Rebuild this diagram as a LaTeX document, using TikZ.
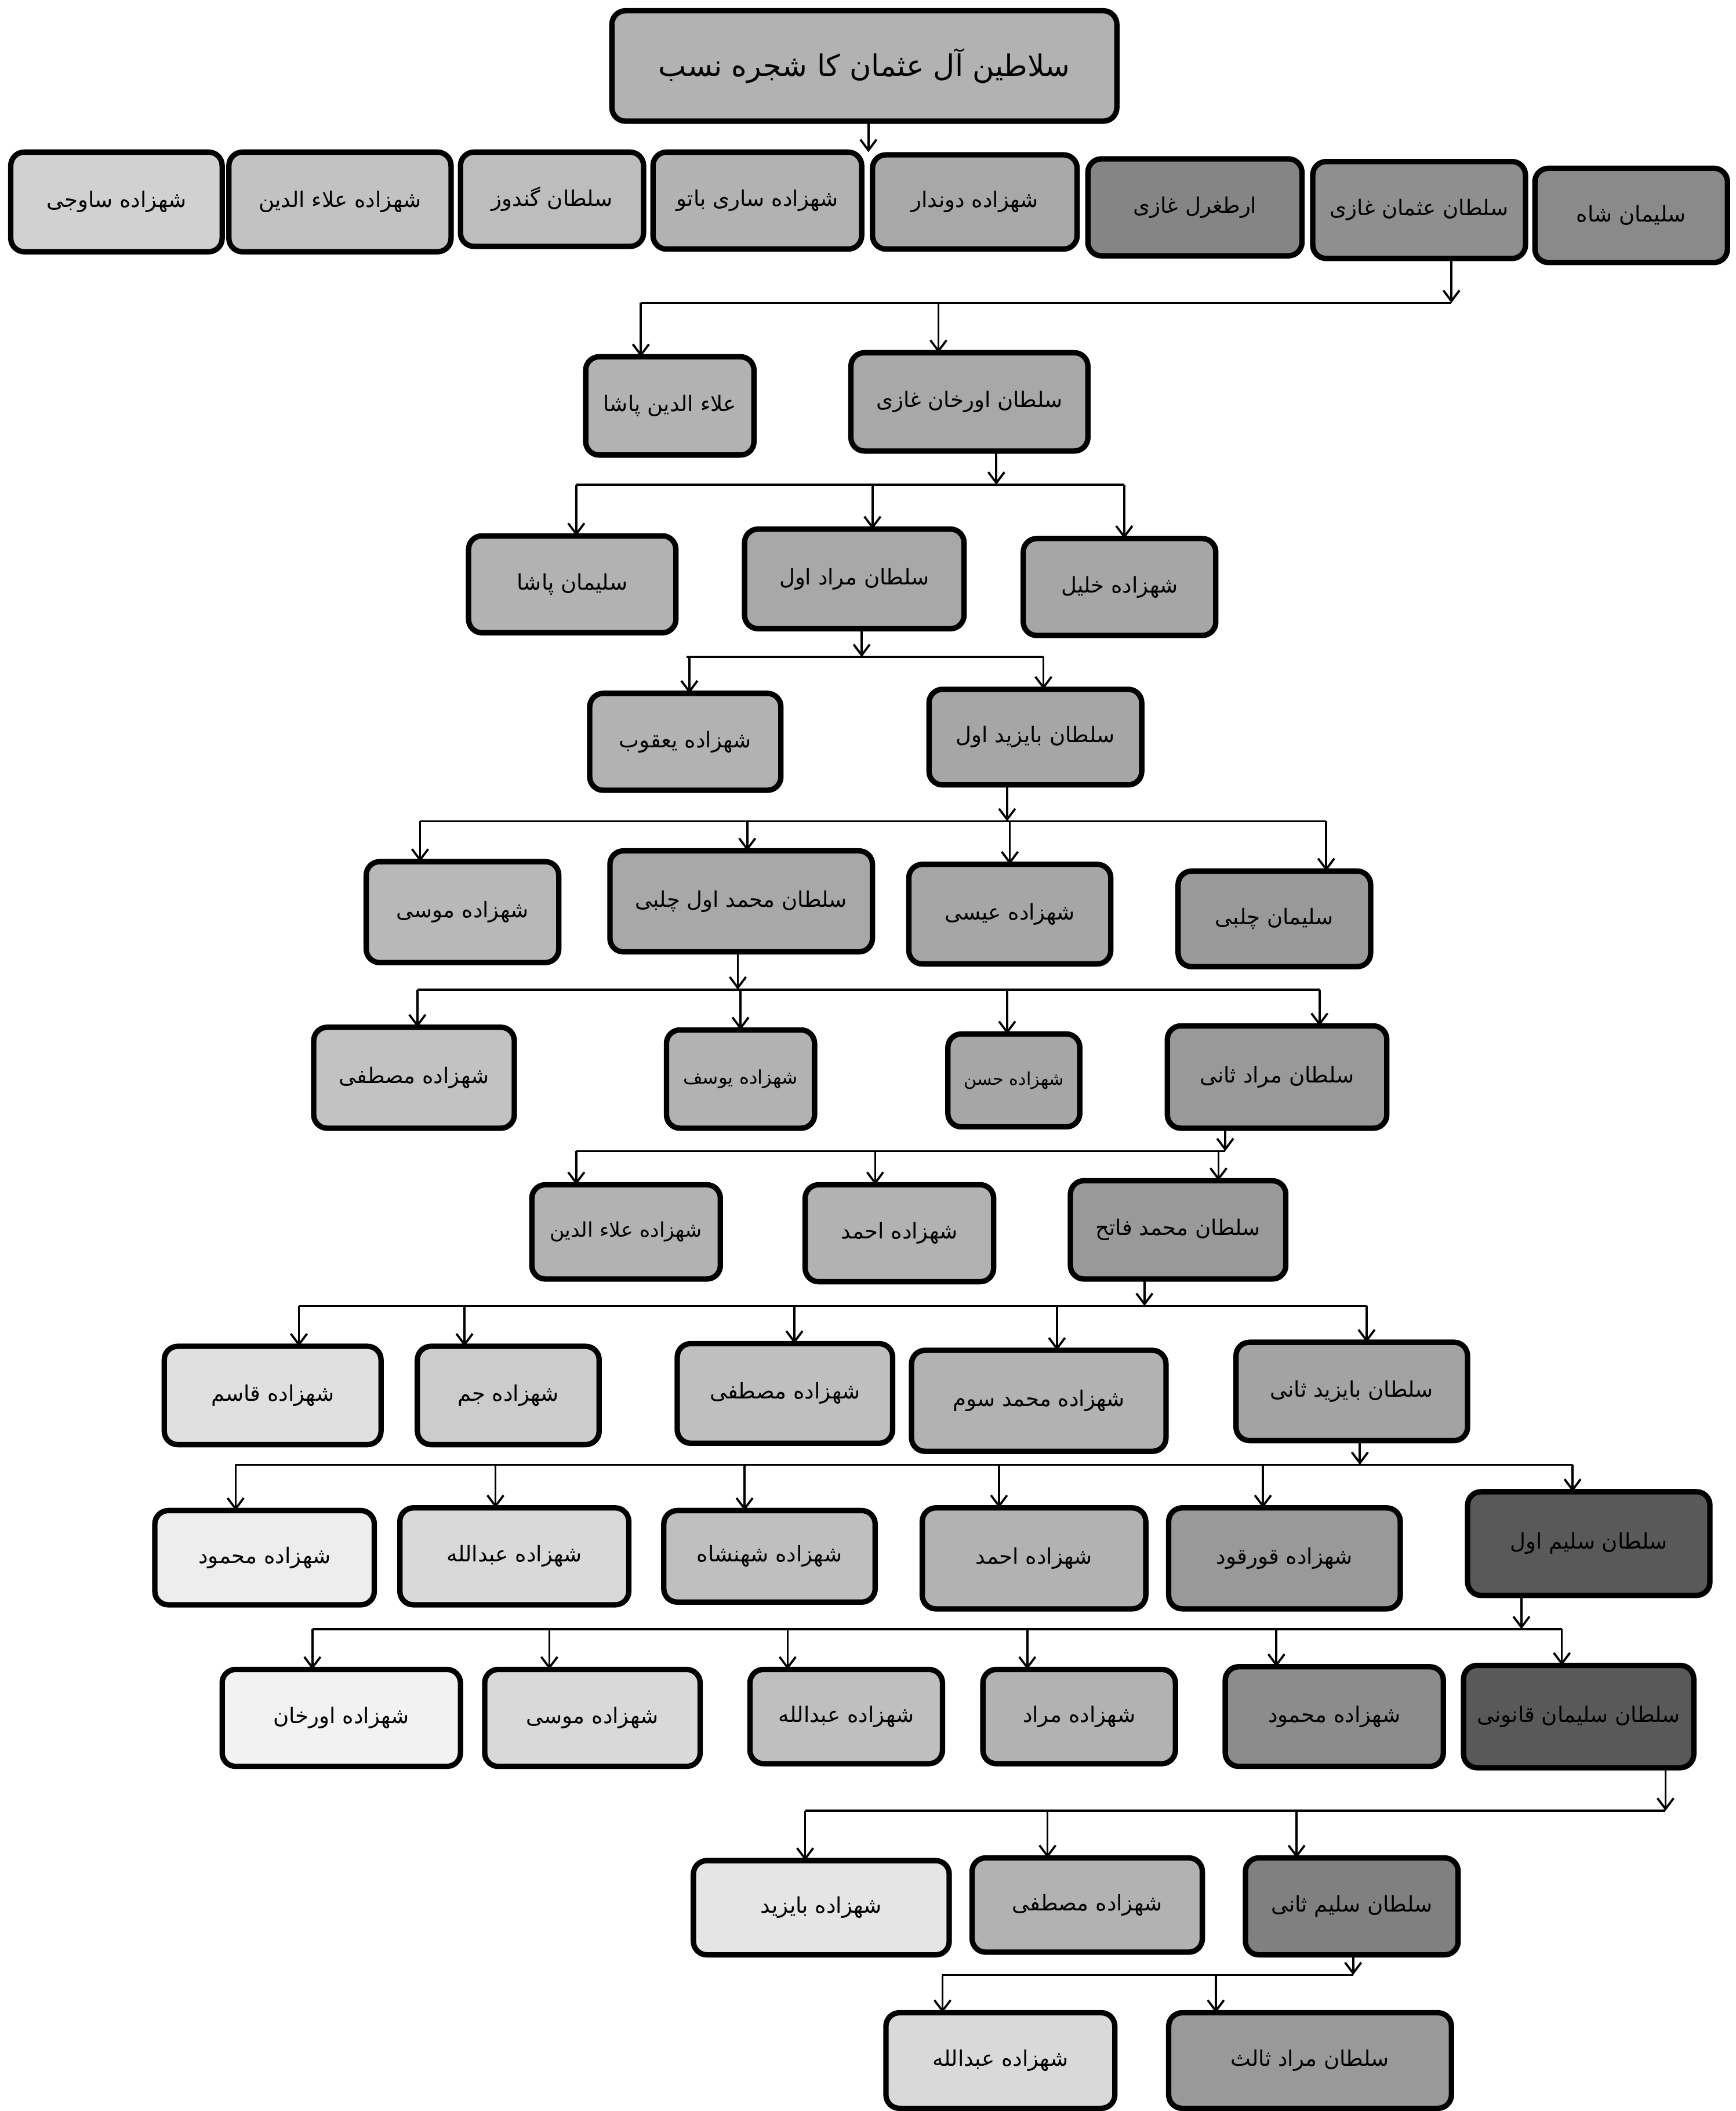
\documentclass[tikz,border=0pt]{standalone}
\usepackage{fontspec}
\usetikzlibrary{arrows.meta}
\TeXXeTstate=1
\newfontfamily\urdu[Script=Arabic]{DejaVu Sans}
\tikzset{
  box/.style={draw=black, line width=2pt, rounded corners=5pt, inner sep=1pt, outer sep=0pt,
    font=\urdu\fontsize{8}{9}\selectfont, text=black},
  link/.style={line width=0.8pt, draw=black},
  arr/.style={link, -{Straight Barb[length=4pt,width=6pt,line width=0.8pt]}}
}
% name, x1, y1, x2, y2, gray, text
\newcommand\mkbox[7]{%
  \node[box, fill=black!#6, minimum width={(#4-#2)*0.5pt}, minimum height={(#5-#3)*0.5pt}]
    (#1) at ({(#2+#4)/2},{(#3+#5)/2}) {#7};}
% parent, x, bar y
\newcommand\up[3]{\draw[arr] (#1.south -| #2,0) -- (#2,#3);}
% bar y, x, child
\newcommand\dn[3]{\draw[arr] (#2,#1) -- (#3.north -| #2,0);}
\begin{document}
\begin{tikzpicture}[x=0.5pt,y=-0.5pt]
\useasboundingbox (0,0) rectangle (1289,1568);
\fill[white] (0,0) rectangle (1289,1568);

% top
\node[box, fill=black!30, minimum width={375*0.5pt}, minimum height={82*0.5pt}, font=\urdu\fontsize{11}{12}\selectfont]
  (top) at (642,49) {\beginR سلاطین آل عثمان کا شجره نسب\endR};
\draw[arr] (top.south -| 645,0) -- (645,113);

% row 1
\mkbox{a1}{8}{113}{165}{187}{18}{\beginR شهزاده ساوجی\endR}
\mkbox{a2}{170}{113}{335}{187}{24}{\beginR شهزاده علاء الدین\endR}
\mkbox{a3}{342}{113}{478}{183}{26}{\beginR سلطان گندوز\endR}
\mkbox{a4}{485}{113}{640}{185}{30}{\beginR شهزاده ساری باتو\endR}
\mkbox{a5}{648}{115}{800}{185}{34}{\beginR شهزاده دوندار\endR}
\mkbox{a6}{808}{118}{967}{190}{48}{\beginR ارطغرل غازی\endR}
\mkbox{a7}{975}{120}{1133}{192}{44}{\beginR سلطان عثمان غازی\endR}
\mkbox{a8}{1140}{125}{1283}{195}{46}{\beginR سلیمان شاه\endR}
\up{a7}{1078}{225}
\draw[link] (476,225) -- (1078,225);

% row 2
\mkbox{b1}{435}{265}{560}{338}{30}{\beginR علاء الدین پاشا\endR}
\mkbox{b2}{632}{262}{808}{335}{34}{\beginR سلطان اورخان غازی\endR}
\dn{225}{476}{b1}
\dn{225}{697}{b2}
\up{b2}{740}{360}
\draw[link] (428,360) -- (835,360);

% row 3
\mkbox{c1}{348}{398}{502}{470}{30}{\beginR سلیمان پاشا\endR}
\mkbox{c2}{553}{393}{716}{467}{34}{\beginR سلطان مراد اول\endR}
\mkbox{c3}{760}{400}{903}{472}{35}{\beginR شهزاده خلیل\endR}
\dn{360}{428}{c1}
\dn{360}{648}{c2}
\dn{360}{835}{c3}
\up{c2}{640}{488}
\draw[link] (510,488) -- (775,488);

% row 4
\mkbox{d1}{438}{515}{580}{587}{30}{\beginR شهزاده یعقوب\endR}
\mkbox{d2}{690}{512}{848}{583}{35}{\beginR سلطان بایزید اول\endR}
\dn{488}{512}{d1}
\dn{488}{775}{d2}
\up{d2}{748}{610}
\draw[link] (312,610) -- (985,610);

% row 5
\mkbox{e1}{272}{640}{415}{715}{28}{\beginR شهزاده موسی\endR}
\mkbox{e2}{453}{632}{648}{707}{34}{\beginR سلطان محمد اول چلبی\endR}
\mkbox{e3}{675}{642}{825}{716}{35}{\beginR شهزاده عیسی\endR}
\mkbox{e4}{875}{647}{1018}{718}{40}{\beginR سلیمان چلبی\endR}
\dn{610}{312}{e1}
\dn{610}{555}{e2}
\dn{610}{750}{e3}
\dn{610}{985}{e4}
\up{e2}{548}{735}
\draw[link] (310,735) -- (980,735);

% row 6
\mkbox{f1}{233}{763}{382}{838}{24}{\beginR شهزاده مصطفی\endR}
\mkbox{f2}{495}{765}{605}{838}{30}{\fontsize{7}{8}\selectfont\beginR شهزاده یوسف\endR}
\mkbox{f3}{704}{768}{802}{837}{35}{\fontsize{6.5}{8}\selectfont\beginR شهزاده حسن\endR}
\mkbox{f4}{867}{762}{1030}{838}{40}{\beginR سلطان مراد ثانی\endR}
\dn{735}{310}{f1}
\dn{735}{550}{f2}
\dn{735}{748}{f3}
\dn{735}{980}{f4}
\up{f4}{910}{855}
\draw[link] (428,855) -- (910,855);

% row 7
\mkbox{g1}{395}{880}{535}{950}{30}{\fontsize{7.5}{8}\selectfont\beginR شهزاده علاء الدین\endR}
\mkbox{g2}{598}{880}{738}{952}{30}{\beginR شهزاده احمد\endR}
\mkbox{g3}{795}{877}{955}{950}{40}{\beginR سلطان محمد فاتح\endR}
\dn{855}{428}{g1}
\dn{855}{650}{g2}
\dn{855}{905}{g3}
\up{g3}{850}{970}
\draw[link] (222,970) -- (1015,970);

% row 8
\mkbox{h1}{122}{1000}{283}{1073}{12}{\beginR شهزاده قاسم\endR}
\mkbox{h2}{310}{1000}{445}{1073}{20}{\beginR شهزاده جم\endR}
\mkbox{h3}{503}{998}{663}{1072}{25}{\beginR شهزاده مصطفی\endR}
\mkbox{h4}{677}{1003}{866}{1078}{30}{\beginR شهزاده محمد سوم\endR}
\mkbox{h5}{918}{997}{1090}{1070}{36}{\beginR سلطان بایزید ثانی\endR}
\dn{970}{222}{h1}
\dn{970}{345}{h2}
\dn{970}{590}{h3}
\dn{970}{785}{h4}
\dn{970}{1015}{h5}
\up{h5}{1010}{1088}
\draw[link] (175,1088) -- (1168,1088);

% row 9
\mkbox{i1}{115}{1122}{278}{1192}{7}{\beginR شهزاده محمود\endR}
\mkbox{i2}{297}{1120}{467}{1192}{15}{\beginR شهزاده عبدالله\endR}
\mkbox{i3}{493}{1122}{650}{1190}{25}{\beginR شهزاده شهنشاه\endR}
\mkbox{i4}{685}{1120}{851}{1195}{30}{\beginR شهزاده احمد\endR}
\mkbox{i5}{868}{1120}{1040}{1195}{40}{\beginR شهزاده قورقود\endR}
\mkbox{i6}{1090}{1108}{1270}{1185}{65}{\beginR سلطان سلیم اول\endR}
\dn{1088}{175}{i1}
\dn{1088}{368}{i2}
\dn{1088}{553}{i3}
\dn{1088}{742}{i4}
\dn{1088}{938}{i5}
\dn{1088}{1168}{i6}
\up{i6}{1130}{1210}
\draw[link] (232,1210) -- (1160,1210);

% row 10
\mkbox{j1}{165}{1240}{342}{1312}{5}{\beginR شهزاده اورخان\endR}
\mkbox{j2}{360}{1240}{520}{1312}{15}{\beginR شهزاده موسی\endR}
\mkbox{j3}{557}{1240}{700}{1310}{25}{\beginR شهزاده عبدالله\endR}
\mkbox{j4}{730}{1240}{873}{1310}{30}{\beginR شهزاده مراد\endR}
\mkbox{j5}{910}{1238}{1072}{1312}{45}{\beginR شهزاده محمود\endR}
\mkbox{j6}{1087}{1237}{1258}{1313}{65}{\beginR سلطان سلیمان قانونی\endR}
\dn{1210}{232}{j1}
\dn{1210}{408}{j2}
\dn{1210}{585}{j3}
\dn{1210}{763}{j4}
\dn{1210}{948}{j5}
\dn{1210}{1160}{j6}
\up{j6}{1237}{1345}
\draw[link] (598,1345) -- (1237,1345);

% row 11
\mkbox{k1}{515}{1382}{705}{1452}{10}{\beginR شهزاده بایزید\endR}
\mkbox{k2}{722}{1380}{893}{1450}{30}{\beginR شهزاده مصطفی\endR}
\mkbox{k3}{925}{1380}{1083}{1452}{50}{\beginR سلطان سلیم ثانی\endR}
\dn{1345}{598}{k1}
\dn{1345}{778}{k2}
\dn{1345}{963}{k3}
\up{k3}{1005}{1467}
\draw[link] (700,1467) -- (1005,1467);

% row 12
\mkbox{l1}{658}{1495}{828}{1566}{15}{\beginR شهزاده عبدالله\endR}
\mkbox{l2}{868}{1495}{1078}{1566}{40}{\beginR سلطان مراد ثالث\endR}
\dn{1467}{700}{l1}
\dn{1467}{903}{l2}
\end{tikzpicture}
\end{document}
